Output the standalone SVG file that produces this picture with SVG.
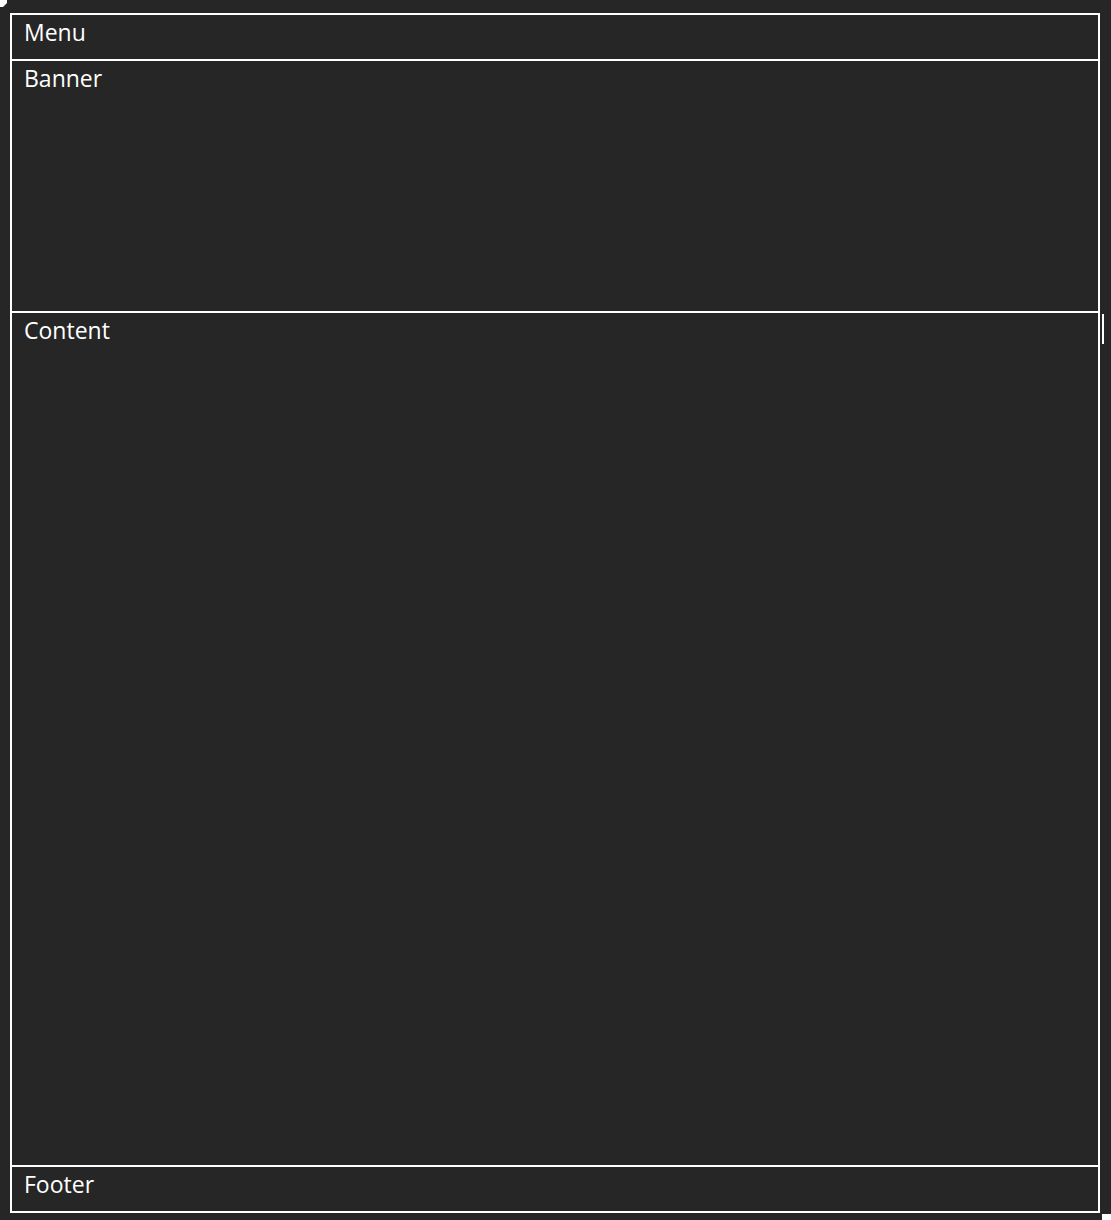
<svg xmlns="http://www.w3.org/2000/svg" width="1111" height="1220" viewBox="0 0 1111 1220">
<style>
.box{fill:none;stroke:#ffffff;stroke-width:2}
.lbl{fill:#ffffff;font-family:"Open Sans","Noto Sans",sans-serif;font-size:23px;font-weight:500}
</style>
<rect x="0" y="0" width="1111" height="1220" fill="#262626"/>
<path d="M0,0 H7 V3 L3,7 H0 Z" fill="#ffffff"/>
<g id="menu">
<rect class="box" x="11" y="14" width="1088" height="46"/>
<text class="lbl" x="24" y="41">Menu</text>
</g>
<g id="banner">
<rect class="box" x="11" y="60" width="1088" height="252"/>
<text class="lbl" x="24" y="87">Banner</text>
</g>
<g id="content">
<rect class="box" x="11" y="312" width="1088" height="854"/>
<text class="lbl" x="24" y="339">Content</text>
</g>
<g id="footer">
<rect class="box" x="11" y="1166" width="1088" height="46"/>
<text class="lbl" x="24" y="1193">Footer</text>
</g>
<g id="connectors"></g>
<rect x="1102" y="314" width="2" height="30" fill="#ffffff"/>
<rect x="1102" y="1214" width="9" height="6" fill="#ffffff"/>
</svg>
